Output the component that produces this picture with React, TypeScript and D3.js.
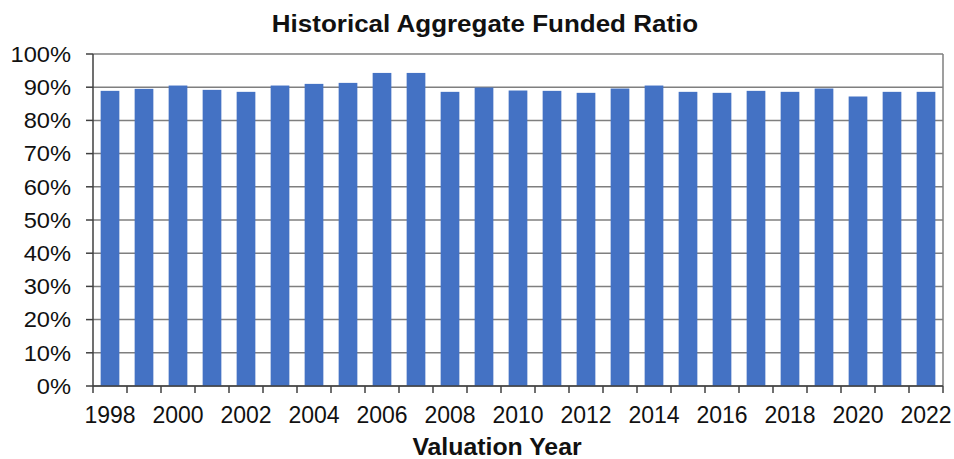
import React from "react";
import * as d3 from "d3";

const years: string[] = [
  "1998","1999","2000","2001","2002","2003","2004","2005","2006","2007","2008","2009",
  "2010","2011","2012","2013","2014","2015","2016","2017","2018","2019","2020","2021","2022",
];
const fundedRatio: number[] = [
  88.9, 89.5, 90.5, 89.2, 88.6, 90.5, 91.0, 91.3, 94.3, 94.3, 88.6, 89.9,
  89.0, 88.9, 88.3, 89.6, 90.5, 88.6, 88.3, 88.9, 88.6, 89.6, 87.2, 88.6, 88.6,
];
const yTicks: number[] = [0, 10, 20, 30, 40, 50, 60, 70, 80, 90, 100];
const xLabelYears: string[] = years.filter((_, i) => i % 2 === 0);

const W = 954, H = 459;
const M = { left: 93, right: 11, top: 54, bottom: 73 };
const FONT = "'Liberation Sans', Arial, sans-serif";

function Txt(props: { x: number; y: number; sx?: number; anchor?: string; size: number; bold?: boolean; dy?: string; children: React.ReactNode }) {
  const { x, y, sx = 1, anchor = "middle", size, bold, dy, children } = props;
  return (
    <text
      transform={`translate(${x},${y}) scale(${sx},1)`}
      dy={dy}
      textAnchor={anchor}
      fontFamily={FONT}
      fontWeight={bold ? "bold" : "normal"}
      fontSize={size}
      fill="#111"
    >
      {children}
    </text>
  );
}

export default function App() {
  const x = d3.scaleBand<string>().domain(years).range([M.left, W - M.right]).paddingInner(0.45).paddingOuter(0.225);
  const y = d3.scaleLinear().domain([0, 100]).range([H - M.bottom, M.top]);
  const step = x.step();
  const x0 = M.left, x1 = W - M.right;
  const boundaries = d3.range(years.length + 1).map((i) => x0 + i * step);

  return (
    <svg width={W} height={H} style={{ position: "absolute", left: 0, top: 0, background: "#fff" }}>
      <rect x={0} y={0} width={W} height={H} fill="#fff" />
      <Txt x={485} y={31.5} sx={1.13} size={23} bold>Historical Aggregate Funded Ratio</Txt>
      {yTicks.map((t) => (
        <line key={"g" + t} x1={x0} x2={x1} y1={y(t)} y2={y(t)} stroke="#7f7f7f" strokeWidth={1.5} />
      ))}
      <line x1={x1} x2={x1} y1={y(100)} y2={y(0)} stroke="#7f7f7f" strokeWidth={1.5} />
      {years.map((yr, i) => (
        <rect key={yr} x={x(yr)} y={y(fundedRatio[i])} width={x.bandwidth()} height={y(0) - y(fundedRatio[i])} fill="#4472c4" />
      ))}
      <line x1={x0} x2={x0} y1={y(100)} y2={y(0)} stroke="#404040" strokeWidth={1.5} />
      <line x1={x0} x2={x1} y1={y(0)} y2={y(0)} stroke="#404040" strokeWidth={1.5} />
      {yTicks.map((t) => (
        <g key={"yt" + t}>
          <line x1={x0 - 7} x2={x0} y1={y(t)} y2={y(t)} stroke="#404040" strokeWidth={1.5} />
          <Txt x={71} y={y(t)} dy="0.36em" sx={1.1} anchor="end" size={21.5}>{t}%</Txt>
        </g>
      ))}
      {boundaries.map((bx, i) => (
        <line key={"xt" + i} x1={bx} x2={bx} y1={y(0)} y2={y(0) + 7} stroke="#404040" strokeWidth={1.5} />
      ))}
      {xLabelYears.map((yr) => (
        <Txt key={"xl" + yr} x={(x(yr) as number) + x.bandwidth() / 2} y={423} size={23}>{yr}</Txt>
      ))}
      <Txt x={497} y={455} sx={1.08} size={23} bold>Valuation Year</Txt>
    </svg>
  );
}
